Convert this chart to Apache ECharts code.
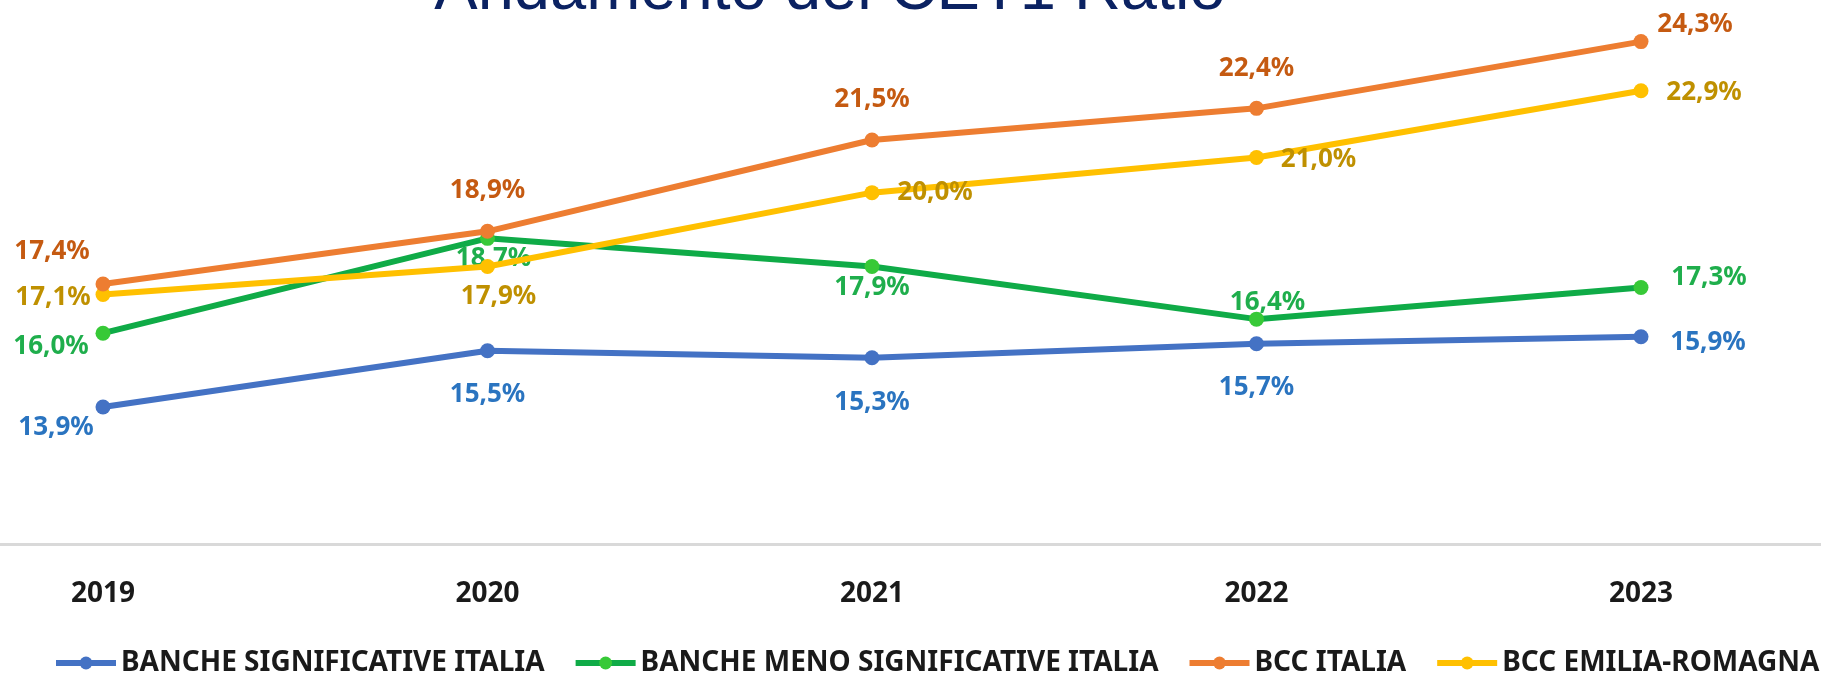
<!DOCTYPE html>
<html>
<head>
<meta charset="utf-8">
<title>Andamento del CET1 Ratio</title>
<script src="https://cdn.jsdelivr.net/npm/echarts@6/dist/echarts.min.js"></script>
<style>
  html, body { margin: 0; padding: 0; background: #fff; }
  #chart { width: 1821px; height: 673px; }
</style>
</head>
<body>
<div id="chart"></div>
<script>
// dati
const years = ['2019', '2020', '2021', '2022', '2023']
const seriesNames = ['BANCHE SIGNIFICATIVE ITALIA', 'BANCHE MENO SIGNIFICATIVE ITALIA', 'BCC ITALIA', 'BCC EMILIA-ROMAGNA']
const bancheSignificative = [13.9, 15.5, 15.3, 15.7, 15.9]
const bancheMenoSignificative = [16.0, 18.7, 17.9, 16.4, 17.3]
const bccItalia = [17.4, 18.9, 21.5, 22.4, 24.3]
const bccEmiliaRomagna = [17.1, 17.9, 20.0, 21.0, 22.9]

// spostamento delle etichette rispetto al punto (px)
const offBlue = [[-47, 21], [0, 44], [0, 45], [0, 44], [67, 6]]
const offGreen = [[-52, 13], [6, 20], [0, 21], [11, -17], [68, -10]]
const offOrange = [[-51, -32], [0, -41], [0, -40], [0, -40], [54, -17]]
const offYellow = [[-50, 3], [11, 30], [63, 0], [62, 2], [63, 2]]

const FONT = "'Noto Sans', 'DejaVu Sans', sans-serif"

function fmt (v) {
  return v.toFixed(1).replace('.', ',') + '%'
}

// costruisce i punti con l'etichetta spostata
function points (values, offsets) {
  return values.map((v, i) => {
    return {
      value: v,
      label: { offset: offsets[i] }
    }
  })
}

function lineSeries (name, values, offsets, lineColor, dotColor, labelColor, z) {
  return {
    name: name,
    type: 'line',
    z: z,
    data: points(values, offsets),
    symbol: 'circle',
    symbolSize: 15,
    lineStyle: { width: 6, color: lineColor },
    itemStyle: { color: dotColor },
    label: {
      show: true,
      position: 'inside',
      color: labelColor,
      fontFamily: FONT,
      fontWeight: 'bold',
      fontSize: 26,
      formatter: (p) => fmt(p.value)
    },
    emphasis: { disabled: true },
    animation: false
  }
}

const chart = echarts.init(document.getElementById('chart'))

const option = {
  backgroundColor: '#ffffff',
  title: {
    text: 'Andamento del CET1 Ratio',
    left: 830,
    top: -41,
    padding: 0,
    textAlign: 'center',
    textStyle: {
      fontFamily: "'Liberation Sans', Arial, sans-serif",
      fontWeight: 'normal',
      fontSize: 65,
      color: '#0b2262'
    }
  },
  legend: {
    data: seriesNames,
    left: 48,
    top: 644,
    width: 4000, // niente a capo: l'ultima voce esce dal bordo come nell'originale
    itemWidth: 60,
    itemHeight: 16,
    itemGap: 28,
    lineStyle: { width: 6 },
    textStyle: {
      fontFamily: FONT,
      fontWeight: 'bold',
      fontSize: 28,
      color: '#1a1a1a'
    }
  },
  grid: [
    { left: 103, right: 180, top: 17, bottom: 129 },
    // griglia piena larghezza solo per la linea dell'asse
    { left: 0, right: 0, top: 17, bottom: 129 }
  ],
  xAxis: [
    {
      type: 'category',
      data: years,
      boundaryGap: false,
      axisLine: { show: false },
      axisTick: { show: false },
      axisLabel: {
        margin: 36,
        fontFamily: FONT,
        fontWeight: 'bold',
        fontSize: 28,
        color: '#1a1a1a'
      }
    },
    {
      type: 'value',
      gridIndex: 1,
      min: 0,
      max: 1,
      axisLine: { show: true, lineStyle: { color: '#d9d9d9', width: 3 } },
      axisTick: { show: false },
      axisLabel: { show: false },
      splitLine: { show: false }
    }
  ],
  yAxis: [
    {
      type: 'value',
      min: 10,
      max: 25,
      show: false
    },
    {
      type: 'value',
      gridIndex: 1,
      min: 0,
      max: 1,
      show: false
    }
  ],
  series: [
    lineSeries(seriesNames[0], bancheSignificative, offBlue, '#4472c4', '#4472c4', '#2a74c0', 2),
    lineSeries(seriesNames[1], bancheMenoSignificative, offGreen, '#0fab47', '#37c937', '#1fae4c', 3),
    lineSeries(seriesNames[2], bccItalia, offOrange, '#ed7d31', '#ed7d31', '#c55a11', 5),
    lineSeries(seriesNames[3], bccEmiliaRomagna, offYellow, '#ffc000', '#ffc000', '#bf9000', 4)
  ]
}

chart.setOption(option)
</script>
</body>
</html>
